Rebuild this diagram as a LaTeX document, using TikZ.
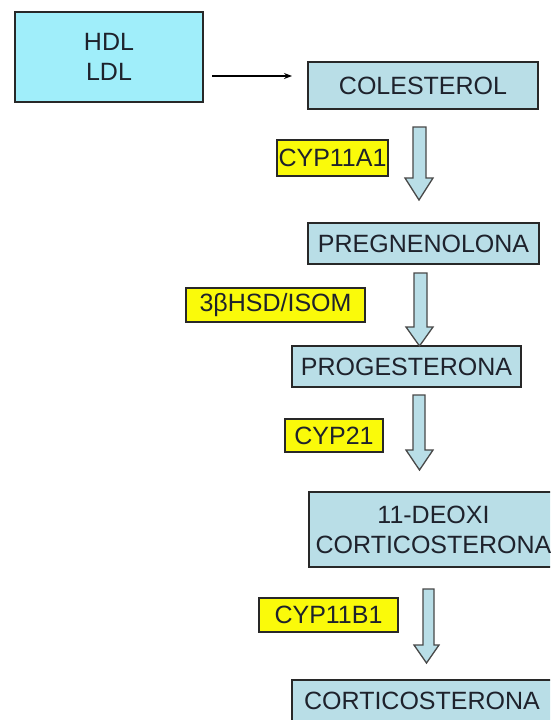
\documentclass[tikz,border=0pt]{standalone}
\usepackage{fontspec}
\setmainfont{Liberation Sans}
\usetikzlibrary{arrows.meta}
\definecolor{cyanfill}{RGB}{160,238,250}
\definecolor{bluefill}{RGB}{185,222,231}
\definecolor{labelyellow}{RGB}{250,250,10}
\definecolor{inkdark}{RGB}{30,34,44}
\definecolor{edgedark}{RGB}{40,40,40}
\newcommand\blockarr[7]{%
  \draw[barrow] (#1,#3) -- (#2,#3) -- (#2,#4) -- (#6,#4) -- ({(#5+#6)/2},#7) -- (#5,#4) -- (#1,#4) -- cycle;}
\begin{document}
\begin{tikzpicture}[x=1pt,y=-1pt,
  every node/.style={text=inkdark, font=\fontsize{25}{30}\selectfont},
  srcbox/.style={draw=edgedark, line width=1.4pt, fill=cyanfill, inner sep=0pt, align=center},
  stepbox/.style={draw=edgedark, line width=1.4pt, fill=bluefill, inner sep=0pt, align=center},
  enzlabel/.style={draw=edgedark, line width=1.2pt, fill=labelyellow, inner sep=0pt},
  barrow/.style={draw=edgedark!85, line width=1.3pt, fill=bluefill, line join=miter},
  thinarrow/.style={draw=black, line width=1.3pt, -{Stealth[length=8pt,width=6pt]}}]
\useasboundingbox[fill=white] (0,0) rectangle (550,720);
\clip (0,0) rectangle (550,720);

\node[srcbox, minimum width=188pt, minimum height=90pt] (hdl) at (109,57) {HDL\\LDL};
\node[stepbox, minimum width=230pt, minimum height=47pt] (col) at (423,85.5) {COLESTEROL};
\node[stepbox, minimum width=231pt, minimum height=41pt] (preg) at (423.5,243.5) {PREGNENOLONA};
\node[stepbox, minimum width=229pt, minimum height=41pt] (prog) at (406.5,366.5) {PROGESTERONA};
\node[stepbox, minimum width=249pt, minimum height=75pt] (doc) at (433.5,529.5) {11-DEOXI\\CORTICOSTERONA};
\node[stepbox, minimum width=260pt, minimum height=41pt] (cort) at (422,700.5) {CORTICOSTERONA};

\node[enzlabel, minimum width=111pt, minimum height=36pt] (e1) at (332.5,158) {CYP11A1};
\node[enzlabel, minimum width=179pt, minimum height=34pt] (e2) at (275.5,305) {3βHSD/ISOM};
\node[enzlabel, minimum width=98pt, minimum height=33pt] (e3) at (334,435.5) {CYP21};
\node[enzlabel, minimum width=139pt, minimum height=34pt] (e4) at (328.5,615) {CYP11B1};

\coordinate (t1) at (212,76);
\coordinate (t2) at (292,76);
\draw[thinarrow] (t1) -- (t2);

\blockarr{413}{426}{127}{178}{405}{433}{200}
\blockarr{414}{427}{273}{327}{406}{433}{346}
\blockarr{413}{425}{395}{450}{406}{433}{470}
\blockarr{423}{434}{589}{645}{414}{439}{663}
\end{tikzpicture}
\end{document}
